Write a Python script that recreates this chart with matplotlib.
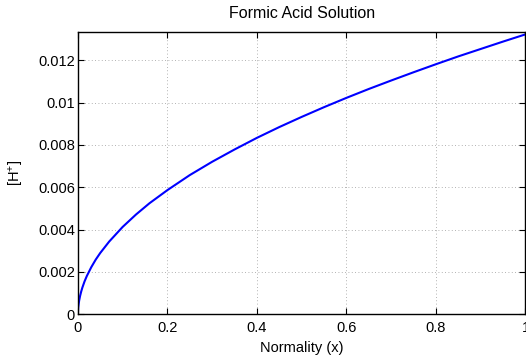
import matplotlib
matplotlib.use("Agg")
import matplotlib.pyplot as plt

plt.rcParams['font.family'] = ['Liberation Sans', 'DejaVu Sans']
plt.rcParams['mathtext.default'] = 'regular'

normality = [0.0, 0.0005, 0.001, 0.002, 0.003, 0.005, 0.0075, 0.01, 0.015, 0.02, 0.03,
             0.04, 0.05, 0.07, 0.1, 0.13, 0.16, 0.2, 0.25, 0.3, 0.35, 0.4, 0.45,
             0.5, 0.55, 0.6, 0.65, 0.7, 0.75, 0.8, 0.85, 0.9, 0.95, 1.0]
h_conc = [0.0, 0.00022, 0.00034, 0.00051, 0.00065, 0.00086, 0.00107, 0.00125, 0.00155,
          0.00180, 0.00222, 0.00258, 0.00289, 0.00343, 0.00412, 0.00471, 0.00524,
          0.00586, 0.00657, 0.00720, 0.00778, 0.00833, 0.00884, 0.00932, 0.00978,
          0.01022, 0.01064, 0.01104, 0.01143, 0.01181, 0.01218, 0.01253, 0.01288, 0.01322]

x_ticks = [0, 0.2, 0.4, 0.6, 0.8, 1]
x_tick_labels = ['0', '0.2', '0.4', '0.6', '0.8', '1']
y_ticks = [0, 0.002, 0.004, 0.006, 0.008, 0.01, 0.012]
y_tick_labels = ['0', '0.002', '0.004', '0.006', '0.008', '0.01', '0.012']

fig = plt.figure(figsize=(5.26, 3.57), dpi=100)
ax = fig.add_axes([0.148, 0.12, 0.851, 0.79])
ax.plot(normality, h_conc, color='#0000ff', linewidth=1.5)
ax.set_xlim(0, 1)
ax.set_ylim(0, max(h_conc) * 1.008)
ax.set_xticks(x_ticks)
ax.set_xticklabels(x_tick_labels)
ax.set_yticks(y_ticks)
ax.set_yticklabels(y_tick_labels)
ax.tick_params(direction='in', top=True, right=True, labelsize=10.5, length=4, width=0.8)
ax.tick_params(axis='x', pad=5)
ax.tick_params(axis='y', pad=2)
ax.grid(True, linestyle=(0, (1, 3)), color='#999999', linewidth=0.6)
for s in ax.spines.values():
    s.set_linewidth(1.0)
ax.set_title('Formic Acid Solution', fontsize=11.5, pad=10)
ax.set_xlabel('Normality (x)', fontsize=10.5, labelpad=4)
ax.set_ylabel('[H$^{+}$]', fontsize=10.5, labelpad=9)
fig.savefig('out.png', dpi=100)
